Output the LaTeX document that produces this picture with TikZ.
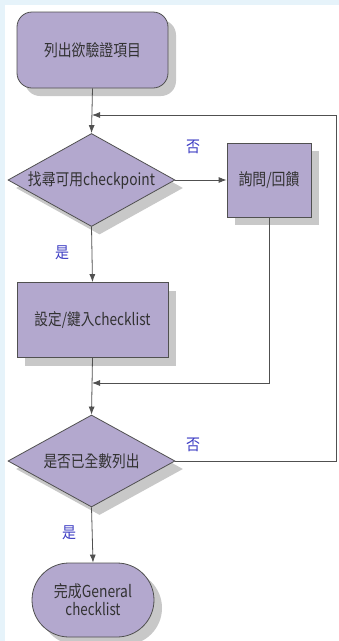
\documentclass[tikz,border=0pt]{standalone}
\usepackage{fontspec}
\usepackage{graphicx}
\setmainfont{Noto Sans CJK TC}
\usetikzlibrary{shapes.geometric,shadows,arrows.meta}
\definecolor{bgblue}{RGB}{230,243,250}
\definecolor{lav}{RGB}{179,168,206}
\definecolor{shd}{RGB}{200,200,200}
\definecolor{edge}{RGB}{80,80,80}
\definecolor{txt}{RGB}{50,50,50}
\definecolor{lbl}{RGB}{60,60,195}
\newcommand\fitw[2]{\resizebox{#1}{\height}{#2}}
\tikzset{
  base/.style={draw=edge, line width=0.8pt, fill=lav, text=txt, inner sep=0pt,
    font=\fontsize{16.5}{19}\selectfont, align=center,
    drop shadow={shadow xshift=8pt, shadow yshift=-8pt, fill=shd, opacity=1}},
  roundbox/.style={base, rectangle, rounded corners=15pt},
  procbox/.style={base, rectangle},
  decide/.style={base, diamond, shape aspect=1.8},
  term/.style={base, rectangle, rounded corners=37pt},
  conn/.style={draw=edge, line width=0.8pt},
  arr/.style={conn, -{Latex[length=8pt,width=6pt]}},
  lab/.style={text=lbl, font=\fontsize{16}{18}\selectfont, inner sep=0pt}
}
\begin{document}
\begin{tikzpicture}[x=1pt,y=-1pt]
\fill[bgblue] (0,0) rectangle (339,641);
\fill[white] (5,5) rectangle (339,641);
\useasboundingbox (0,0) rectangle (339,641);

\node[roundbox, minimum width=151pt, minimum height=76pt] (n1) at (92.5,50) {\fitw{97pt}{列出欲驗證項目}};
\node[decide, minimum width=167pt, minimum height=93pt] (d1) at (91.5,180) {\fitw{127pt}{找尋可用checkpoint}};
\node[procbox, minimum width=84pt, minimum height=74pt] (q) at (269,180) {\fitw{61pt}{詢問/回饋}};
\node[procbox, minimum width=151pt, minimum height=75pt] (s) at (92.5,320) {\fitw{116pt}{設定/鍵入checklist}};
\node[decide, minimum width=167pt, minimum height=92pt] (d2) at (91.5,461) {\fitw{96pt}{是否已全數列出}};
\node[term, minimum width=122pt, minimum height=74pt] (e) at (93,600) {\fitw{78pt}{完成General}\\[-1pt]\fitw{55pt}{checklist}};

\coordinate (j1) at (92,115);
\coordinate (j2) at (92,383);
\coordinate (rc) at (336,115);

\draw[arr] (n1.south) -- (d1.north);
\draw[arr] (d1.east) -- (q.west);
\draw[arr] (d1.south) -- (s.north);
\draw[arr] (q.south) |- (j2);
\draw[arr] (s.south) -- (d2.north);
\draw[arr] (d2.south) -- (e.north);
\draw[arr] (d2.east) -| (rc) -- (j1);

\node[lab] (l1) at (193,147) {\fitw{14pt}{否}};
\node[lab] (l2) at (62,253) {\fitw{14pt}{是}};
\node[lab] (l3) at (193,445) {\fitw{14pt}{否}};
\node[lab] (l4) at (69,533) {\fitw{14pt}{是}};
\end{tikzpicture}
\end{document}
